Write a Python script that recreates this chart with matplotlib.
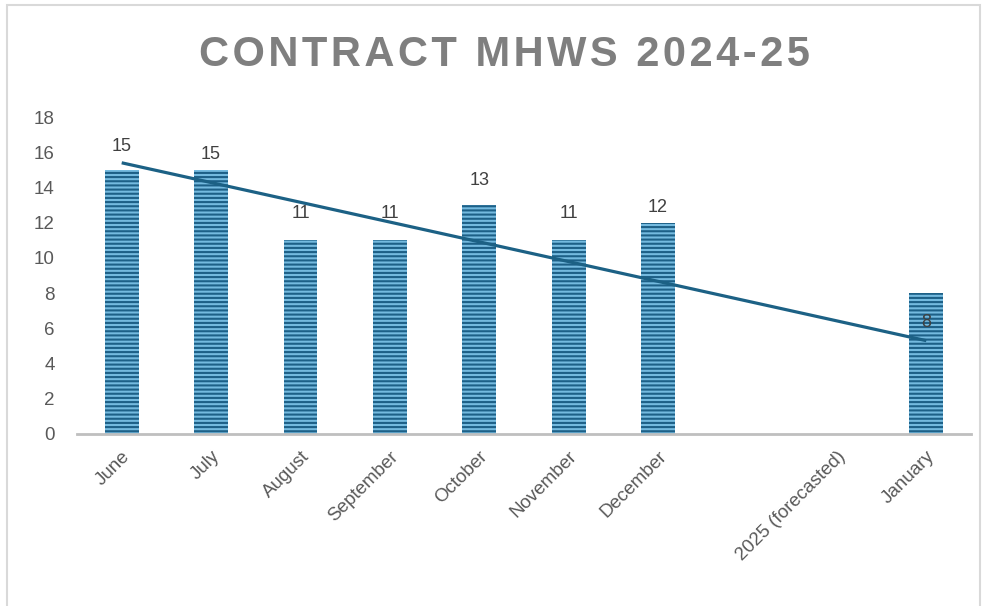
import numpy as np
import matplotlib
matplotlib.use("Agg")
import matplotlib.pyplot as plt
from matplotlib.patches import Rectangle

# chart data
months = ["June", "July", "August", "September", "October", "November",
          "December", "", "2025 (forecasted)", "January"]
mhws = [15, 15, 11, 11, 13, 11, 12, np.nan, np.nan, 8]
trend_start, trend_end = 15.4, 5.3   # trendline ends at June and January
yticks = list(range(0, 20, 2))
title = "CONTRACT MHWS 2024-25"

# label offsets in pixels (positive = above the bar top)
label_offset = [23, 15, 27, 27, 25, 27, 15, 0, 0, -29]

plt.rcParams['font.family'] = ['Liberation Sans', 'DejaVu Sans']
plt.rcParams['hatch.linewidth'] = 1.5

fig = plt.figure(figsize=(9.84, 6.06), dpi=100)
ax = fig.add_axes([77 / 984, 1 - 434 / 606, 894 / 984, 317 / 606])

x = np.arange(len(months))
# hatch takes the edge colour, so the edge is the dark stripe colour
ax.bar(x, mhws, width=0.38, color='#74BADF', edgecolor='#1D6087',
       linewidth=0, hatch='----', zorder=2)

# linear trendline between the read end points
ax.plot([x[0], x[-1]], [trend_start, trend_end], color='#1C6185',
        lw=2.3, solid_capstyle='butt', zorder=3)

for xi, v, off in zip(x, mhws, label_offset):
    if np.isnan(v):
        continue
    ax.annotate(f"{int(v)}", (xi, v), xytext=(0, off * 0.72),
                textcoords='offset points', ha='center', va='center',
                fontsize=13, color='#404040', zorder=4)

ax.set_xlim(-0.5, len(months) - 0.5)
ax.set_ylim(0, 18)
ax.set_yticks(yticks)
ax.set_xticks(x)
ax.set_xticklabels(months, rotation=45, ha='right', rotation_mode='anchor')
ax.tick_params(axis='both', length=0, labelsize=13.5, labelcolor='#595959')
ax.tick_params(axis='y', pad=16)
ax.tick_params(axis='x', pad=10)

for side in ['top', 'right', 'left']:
    ax.spines[side].set_visible(False)
ax.spines['bottom'].set_color('#BFBFBF')
ax.spines['bottom'].set_linewidth(2)
ax.spines['bottom'].set_zorder(5)

# letter-spaced title
fig.text(504 / 984, 1 - 55 / 606, "\u200a".join(title), ha='center',
         va='center', fontsize=30, fontweight='bold', color='#7F7F7F')

# light frame around the chart
fig.patches.append(Rectangle((7 / 984, -0.05), 973 / 984, 1.05 - 5 / 606,
                             transform=fig.transFigure, fill=False,
                             edgecolor='#D9D9D9', lw=1.5))

fig.savefig("out.png", dpi=100)
